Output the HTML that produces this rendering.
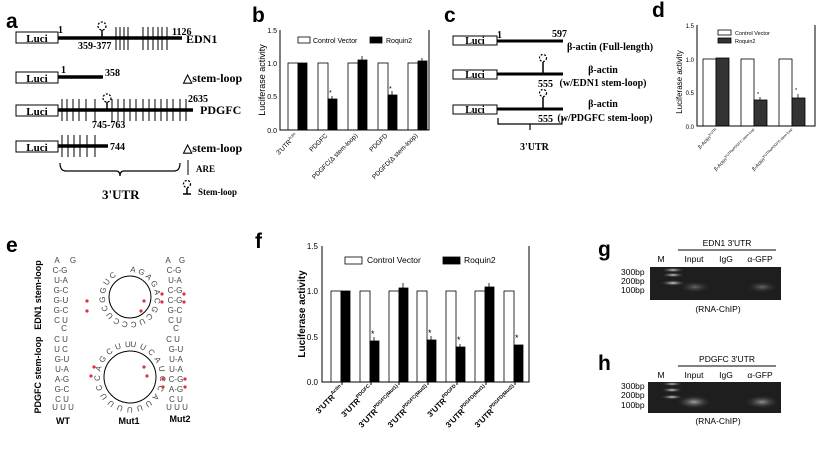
<!DOCTYPE html>
<html><head><meta charset="utf-8"><style>
html,body{margin:0;padding:0;background:#fff;width:817px;height:450px;overflow:hidden}
svg{display:block}
.sf{font-family:"Liberation Serif",serif;font-weight:bold}
.ss{font-family:"Liberation Sans",sans-serif}
.pl{font-family:"Liberation Sans",sans-serif;font-weight:bold;font-size:21px}
</style></head><body>
<svg width="817" height="450" viewBox="0 0 817 450" xmlns="http://www.w3.org/2000/svg">
<defs>
<radialGradient id="gl"><stop offset="0" stop-color="#666"/><stop offset="1" stop-color="#222" stop-opacity="0"/></radialGradient>
<radialGradient id="gb"><stop offset="0" stop-color="#ddd"/><stop offset="1" stop-color="#222" stop-opacity="0"/></radialGradient>
<path id="c1" d="M130,272 A25,25 0 1,1 129.9,272"/>
<path id="c2" d="M130,347 A30,30 0 1,1 129.9,347"/>
</defs>
<!-- Panel a -->
<text x="6" y="28" class="pl">a</text>
<g stroke="#000" fill="#fff" stroke-width="1">
<rect x="16" y="32" width="42" height="11"/>
<rect x="16" y="72" width="42" height="11"/>
<rect x="16" y="105" width="42" height="11"/>
<rect x="16" y="141" width="42" height="11"/>
</g>
<g class="sf" font-size="11" text-anchor="middle"><text x="37" y="42">Luci</text><text x="37" y="82">Luci</text><text x="37" y="115">Luci</text><text x="37" y="151">Luci</text></g>
<g stroke="#000" stroke-width="3.5"><line x1="58" y1="38" x2="182" y2="38"/><line x1="58" y1="77" x2="103" y2="77"/><line x1="58" y1="110" x2="193" y2="110"/><line x1="58" y1="146" x2="108" y2="146"/></g>
<g stroke="#000" stroke-width="1">
<line x1="116" y1="27" x2="116" y2="50"/><line x1="120" y1="27" x2="120" y2="50"/><line x1="124" y1="27" x2="124" y2="50"/><line x1="128" y1="27" x2="128" y2="50"/>
<line x1="143" y1="27" x2="143" y2="50"/><line x1="148" y1="27" x2="148" y2="50"/><line x1="153" y1="27" x2="153" y2="50"/><line x1="158" y1="27" x2="158" y2="50"/><line x1="162" y1="27" x2="162" y2="50"/><line x1="167" y1="27" x2="167" y2="50"/>
<line x1="62" y1="99" x2="62" y2="121"/><line x1="67" y1="99" x2="67" y2="121"/><line x1="73" y1="99" x2="73" y2="121"/><line x1="79" y1="99" x2="79" y2="121"/><line x1="86" y1="99" x2="86" y2="121"/><line x1="95" y1="99" x2="95" y2="121"/>
<line x1="112" y1="99" x2="112" y2="121"/><line x1="118" y1="99" x2="118" y2="121"/><line x1="124" y1="99" x2="124" y2="121"/><line x1="130" y1="99" x2="130" y2="121"/><line x1="136" y1="99" x2="136" y2="121"/><line x1="143" y1="99" x2="143" y2="121"/><line x1="149" y1="99" x2="149" y2="121"/><line x1="155" y1="99" x2="155" y2="121"/><line x1="161" y1="99" x2="161" y2="121"/><line x1="167" y1="99" x2="167" y2="121"/><line x1="173" y1="99" x2="173" y2="121"/><line x1="180" y1="99" x2="180" y2="121"/><line x1="186" y1="99" x2="186" y2="121"/>
<line x1="62" y1="135" x2="62" y2="157"/><line x1="68" y1="135" x2="68" y2="157"/><line x1="74" y1="135" x2="74" y2="157"/><line x1="80" y1="135" x2="80" y2="157"/><line x1="87" y1="135" x2="87" y2="157"/><line x1="95" y1="135" x2="95" y2="157"/>
<line x1="188" y1="160" x2="188" y2="175"/>
</g>
<g fill="none" stroke="#000" stroke-width="1.3" stroke-dasharray="2,1.5"><circle cx="102" cy="26" r="4"/><circle cx="107" cy="98" r="4"/><circle cx="187" cy="184" r="3.5"/></g>
<g stroke="#000" stroke-width="1.5"><line x1="102" y1="30" x2="102" y2="37"/><line x1="107" y1="102" x2="107" y2="110"/><line x1="187" y1="188" x2="187" y2="194"/><line x1="183" y1="194" x2="191" y2="194"/></g>
<path d="M60,163 Q60,171 66,171 L116,171 Q120,171 120,176 Q120,171 124,171 L174,171 Q180,171 180,163" fill="none" stroke="#000" stroke-width="1.2"/>
<g class="sf" font-size="10"><text x="58" y="33">1</text><text x="172" y="35">1126</text><text x="78" y="49">359-377</text><text x="61" y="73">1</text><text x="105" y="76">358</text><text x="188" y="102">2635</text><text x="92" y="128">745-763</text><text x="110" y="150">744</text></g>
<g class="sf" font-size="12"><text x="186" y="43">EDN1</text><text x="183" y="82">△stem-loop</text><text x="200" y="114">PDGFC</text><text x="183" y="152">△stem-loop</text><text x="102" y="199" font-size="13">3'UTR</text></g>
<g class="sf" font-size="9"><text x="196" y="172">ARE</text><text x="198" y="195">Stem-loop</text></g>

<!-- Panel b -->
<text x="252" y="22" class="pl">b</text>
<g class="ss" font-size="7" text-anchor="end"><text x="277" y="33">1.5</text><text x="277" y="66">1.0</text><text x="277" y="99">0.5</text><text x="277" y="133">0.0</text></g>
<text transform="translate(265,80) rotate(-90)" class="ss" font-size="9" text-anchor="middle">Luciferase activity</text>
<g stroke="#000" stroke-width="0.8">
<rect x="288" y="63" width="10" height="67" fill="#fff"/><rect x="298" y="63" width="9" height="67" fill="#000"/>
<rect x="318" y="63" width="10" height="67" fill="#fff"/><rect x="328" y="99" width="9" height="31" fill="#000"/>
<rect x="348" y="63" width="10" height="67" fill="#fff"/><rect x="358" y="60" width="9" height="70" fill="#000"/>
<rect x="378" y="63" width="10" height="67" fill="#fff"/><rect x="388" y="95" width="9" height="35" fill="#000"/>
<rect x="408" y="63" width="10" height="67" fill="#fff"/><rect x="418" y="61" width="9" height="69" fill="#000"/>
<line x1="332" y1="96" x2="332" y2="99"/><line x1="362" y1="56" x2="362" y2="60"/><line x1="392" y1="91" x2="392" y2="95"/><line x1="422" y1="58" x2="422" y2="61"/>
<path d="M280,30 L280,130 L429,130 L429,30" fill="none" stroke-width="1"/>
<rect x="298" y="37" width="12" height="6" fill="#fff"/><rect x="370" y="37" width="12" height="6" fill="#000"/>
</g>
<g class="ss" font-size="7"><text x="313" y="43">Control Vector</text><text x="386" y="43">Roquin2</text><text x="329" y="95">*</text><text x="389" y="91">*</text></g>
<g class="ss" font-size="6.5" text-anchor="end">
<text transform="translate(298,136) rotate(-45)">3'UTR<tspan font-size="4" dy="-3">Actin</tspan></text>
<text transform="translate(328,136) rotate(-45)">PDGFC</text>
<text transform="translate(358,136) rotate(-45)">PDGFC(Δ stem-loop)</text>
<text transform="translate(388,136) rotate(-45)">PDGFD</text>
<text transform="translate(418,136) rotate(-45)">PDGFD(Δ stem-loop)</text>
</g>

<!-- Panel c -->
<text x="444" y="22" class="pl">c</text>
<g stroke="#000" fill="#fff"><rect x="453" y="36" width="44" height="9"/><rect x="453" y="70" width="44" height="9"/><rect x="453" y="105" width="44" height="9"/></g>
<g class="sf" font-size="10" text-anchor="middle"><text x="475" y="44">Luci</text><text x="475" y="78">Luci</text><text x="475" y="113">Luci</text></g>
<g stroke="#000" stroke-width="3"><line x1="497" y1="41" x2="563" y2="41"/><line x1="497" y1="74" x2="563" y2="74"/><line x1="497" y1="109" x2="563" y2="109"/></g>
<g fill="none" stroke="#000" stroke-width="1.2" stroke-dasharray="2,1.5"><circle cx="543" cy="58" r="3.5"/><circle cx="543" cy="93" r="3.5"/></g>
<g stroke="#000" stroke-width="1.5"><line x1="543" y1="62" x2="543" y2="73"/><line x1="543" y1="97" x2="543" y2="108"/></g>
<path d="M498,118 L498,124 L530,124 L530,130 M530,124 L562,124 L562,118" fill="none" stroke="#000" stroke-width="1.2"/>
<g class="sf" font-size="10"><text x="497" y="38">1</text><text x="552" y="37">597</text><text x="538" y="87">555</text><text x="538" y="122">555</text><text x="520" y="150" font-size="10">3'UTR</text></g>
<g class="sf" font-size="10"><text x="567" y="50">β-actin (Full-length)</text><text x="603" y="73" text-anchor="middle">β-actin</text><text x="603" y="86" text-anchor="middle">(w/EDN1 stem-loop)</text><text x="603" y="107" text-anchor="middle">β-actin</text><text x="605" y="121" text-anchor="middle">(w/PDGFC stem-loop)</text></g>

<!-- Panel d -->
<text x="652" y="17" class="pl">d</text>
<g class="ss" font-size="6" text-anchor="end"><text x="694" y="28">1.5</text><text x="694" y="62">1.0</text><text x="694" y="95">0.5</text><text x="694" y="129">0.0</text></g>
<text transform="translate(682,82) rotate(-90)" class="ss" font-size="8" text-anchor="middle">Luciferase activity</text>
<g stroke="#000" stroke-width="0.8">
<rect x="703" y="59" width="13" height="67" fill="#fff"/><rect x="716" y="58" width="13" height="68" fill="#333"/>
<rect x="741" y="59" width="13" height="67" fill="#fff"/><rect x="754" y="100" width="13" height="26" fill="#333"/>
<rect x="779" y="59" width="13" height="67" fill="#fff"/><rect x="792" y="98" width="13" height="28" fill="#333"/>
<line x1="760" y1="97" x2="760" y2="100"/><line x1="798" y1="94" x2="798" y2="98"/>
<path d="M697,25 L697,126 L815,126 L815,25" fill="none" stroke-width="1"/>
<rect x="718" y="30" width="13" height="5" fill="#fff"/><rect x="718" y="38" width="13" height="5" fill="#333"/>
</g>
<g class="ss" font-size="5.5"><text x="735" y="35">Control Vector</text><text x="735" y="43">Roquin2</text><text x="757" y="96">*</text><text x="795" y="92">*</text></g>
<g class="ss" font-size="5" text-anchor="end">
<text transform="translate(718,131) rotate(-45)">β-Actin<tspan font-size="3.5" dy="-2">3'UTR</tspan></text>
<text transform="translate(756,131) rotate(-45)">β-Actin<tspan font-size="3.5" dy="-2">3'UTRwPDGFC stem-loop</tspan></text>
<text transform="translate(794,131) rotate(-45)">β-Actin<tspan font-size="3.5" dy="-2">3'UTRwPDGFD stem-loop</tspan></text>
</g>

<!-- Panel e -->
<text x="6" y="252" class="pl">e</text>
<g class="ss" font-size="9" font-weight="bold" text-anchor="middle">
<text transform="translate(41,295) rotate(-90)">EDN1 stem-loop</text>
<text transform="translate(41,375) rotate(-90)">PDGFC stem-loop</text>
<text x="63" y="424">WT</text><text x="129" y="424">Mut1</text><text x="180" y="422">Mut2</text>
</g>
<g class="ss" font-size="8" fill="#444" text-anchor="middle">
<text x="57" y="263">A</text><text x="73" y="263">G</text>
<text x="60" y="273">C-G</text><text x="61" y="283">U-A</text><text x="61" y="293">G-C</text><text x="61" y="303">G-U</text><text x="61" y="313">G-C</text><text x="61" y="323">C   U</text><text x="64" y="331">C</text>
<text x="61" y="342">C   U</text><text x="61" y="352">U   C</text><text x="62" y="362">G-U</text><text x="62" y="372">U-A</text><text x="62" y="382">A-G</text><text x="62" y="392">G-C</text><text x="62" y="402">C     U</text><text x="63" y="410">U U U</text>
<text x="168" y="263">A</text><text x="182" y="263">G</text><text x="174" y="273">C-G</text><text x="175" y="283">U-A</text><text x="175" y="293">C-G</text><text x="175" y="303">C-G</text><text x="175" y="313">G-C</text><text x="175" y="323">C   U</text><text x="176" y="331">C</text>
<text x="173" y="342">C   U</text><text x="176" y="352">G-U</text><text x="176" y="362">U-A</text><text x="176" y="372">U-A</text><text x="176" y="382">C-G</text><text x="176" y="392">A-G</text><text x="176" y="402">C     U</text><text x="177" y="410">U U U</text>
</g>
<g fill="none" stroke="#000" stroke-width="1"><circle cx="130" cy="297" r="21"/><circle cx="130" cy="377" r="26"/></g>
<g class="ss" font-size="8" fill="#444"><text letter-spacing="2.2"><textPath href="#c1">AGAGACGCUCCCUCGGUC</textPath></text><text letter-spacing="3.4"><textPath href="#c2">UUCAUCCAUUUUUUCCAGCUU</textPath></text></g>
<g fill="#e03040"><circle cx="87" cy="301" r="1.6"/><circle cx="87" cy="311" r="1.6"/><circle cx="144" cy="301" r="1.6"/><circle cx="141" cy="311" r="1.6"/><circle cx="94" cy="367" r="1.6"/><circle cx="91" cy="376" r="1.6"/><circle cx="144" cy="367" r="1.6"/><circle cx="147" cy="376" r="1.6"/><circle cx="162" cy="294" r="1.6"/><circle cx="162" cy="302" r="1.6"/><circle cx="184" cy="294" r="1.6"/><circle cx="184" cy="302" r="1.6"/><circle cx="163" cy="379" r="1.6"/><circle cx="163" cy="387" r="1.6"/><circle cx="185" cy="379" r="1.6"/><circle cx="185" cy="387" r="1.6"/></g>

<!-- Panel f -->
<text x="255" y="248" class="pl">f</text>
<g class="ss" font-size="8" text-anchor="end"><text x="318" y="249">1.5</text><text x="318" y="294">1.0</text><text x="318" y="340">0.5</text><text x="318" y="385">0.0</text></g>
<text transform="translate(305,314) rotate(-90)" class="ss" font-size="10" font-weight="bold" text-anchor="middle">Luciferase activity</text>
<g stroke="#000" stroke-width="0.8">
<rect x="331" y="291" width="10" height="91" fill="#fff"/><rect x="341" y="291" width="9" height="91" fill="#000"/>
<rect x="360" y="291" width="10" height="91" fill="#fff"/><rect x="370" y="341" width="9" height="41" fill="#000"/>
<rect x="389" y="291" width="10" height="91" fill="#fff"/><rect x="399" y="288" width="9" height="94" fill="#000"/>
<rect x="417" y="291" width="10" height="91" fill="#fff"/><rect x="427" y="340" width="9" height="42" fill="#000"/>
<rect x="446" y="291" width="10" height="91" fill="#fff"/><rect x="456" y="347" width="9" height="35" fill="#000"/>
<rect x="475" y="291" width="10" height="91" fill="#fff"/><rect x="485" y="287" width="9" height="95" fill="#000"/>
<rect x="504" y="291" width="10" height="91" fill="#fff"/><rect x="514" y="345" width="9" height="37" fill="#000"/>
<line x1="374" y1="337" x2="374" y2="341"/><line x1="403" y1="283" x2="403" y2="288"/><line x1="431" y1="336" x2="431" y2="340"/><line x1="460" y1="344" x2="460" y2="347"/><line x1="489" y1="283" x2="489" y2="287"/>
<path d="M322,246 L322,382 L529,382 L529,246" fill="none" stroke-width="1"/>
<g stroke-width="1"><line x1="342" y1="382" x2="342" y2="385"/><line x1="371" y1="382" x2="371" y2="385"/><line x1="399" y1="382" x2="399" y2="385"/><line x1="428" y1="382" x2="428" y2="385"/><line x1="457" y1="382" x2="457" y2="385"/><line x1="486" y1="382" x2="486" y2="385"/><line x1="515" y1="382" x2="515" y2="385"/></g>
<rect x="345" y="257" width="17" height="7" fill="#fff"/><rect x="443" y="257" width="17" height="7" fill="#000"/>
</g>
<g class="ss" font-size="8.5"><text x="367" y="263">Control Vector</text><text x="464" y="263">Roquin2</text></g>
<g class="ss" font-size="9"><text x="371" y="337">*</text><text x="428" y="336">*</text><text x="457" y="343">*</text><text x="515" y="341">*</text></g>
<g class="ss" font-size="8" font-weight="bold" text-anchor="end">
<text transform="translate(344,389) rotate(-45)">3'UTR<tspan font-size="5" dy="-4">Actin</tspan></text>
<text transform="translate(373,389) rotate(-45)">3'UTR<tspan font-size="5" dy="-4">PDGFC</tspan></text>
<text transform="translate(401,389) rotate(-45)">3'UTR<tspan font-size="5" dy="-4">PDGFC(Mut1)</tspan></text>
<text transform="translate(430,389) rotate(-45)">3'UTR<tspan font-size="5" dy="-4">PDGFC(Mut2)</tspan></text>
<text transform="translate(459,389) rotate(-45)">3'UTR<tspan font-size="5" dy="-4">PDGFD</tspan></text>
<text transform="translate(488,389) rotate(-45)">3'UTR<tspan font-size="5" dy="-4">PDGFD(Mut1)</tspan></text>
<text transform="translate(517,389) rotate(-45)">3'UTR<tspan font-size="5" dy="-4">PDGFD(Mut2)</tspan></text>
</g>

<!-- Panel g -->
<text x="598" y="256" class="pl">g</text>
<line x1="678" y1="250" x2="776" y2="250" stroke="#000"/>
<g class="ss" font-size="8.5" text-anchor="middle"><text x="727" y="246">EDN1 3'UTR</text><text x="661" y="262">M</text><text x="694" y="262">Input</text><text x="726" y="262">IgG</text><text x="760" y="262">α-GFP</text><text x="718" y="312">(RNA-ChIP)</text></g>
<rect x="650" y="267" width="131" height="33" fill="#1e1e1e"/>
<ellipse cx="673" cy="270" rx="12" ry="2.5" fill="url(#gb)"/><ellipse cx="673" cy="275" rx="12" ry="2.5" fill="url(#gb)"/><ellipse cx="673" cy="283" rx="13" ry="3" fill="url(#gb)"/>
<ellipse cx="695" cy="287" rx="16" ry="6" fill="url(#gl)"/><ellipse cx="762" cy="287" rx="16" ry="6" fill="url(#gl)"/>
<g class="ss" font-size="8.5"><text x="621" y="275">300bp</text><text x="621" y="284">200bp</text><text x="621" y="293">100bp</text></g>

<!-- Panel h -->
<text x="598" y="370" class="pl">h</text>
<line x1="678" y1="366" x2="776" y2="366" stroke="#000"/>
<g class="ss" font-size="8.5" text-anchor="middle"><text x="727" y="362">PDGFC 3'UTR</text><text x="661" y="378">M</text><text x="694" y="378">Input</text><text x="726" y="378">IgG</text><text x="760" y="378">α-GFP</text><text x="718" y="424">(RNA-ChIP)</text></g>
<rect x="648" y="382" width="133" height="31" fill="#1e1e1e"/>
<ellipse cx="672" cy="384" rx="11" ry="2" fill="url(#gb)"/><ellipse cx="672" cy="390" rx="11" ry="2.5" fill="url(#gb)"/><ellipse cx="672" cy="397" rx="12" ry="2.5" fill="url(#gb)"/>
<ellipse cx="694" cy="402" rx="18" ry="7" fill="url(#gb)" opacity="0.7"/><ellipse cx="762" cy="402" rx="18" ry="7" fill="url(#gb)" opacity="0.6"/>
<g class="ss" font-size="8.5"><text x="621" y="389">300bp</text><text x="621" y="398">200bp</text><text x="621" y="408">100bp</text></g>
</svg>
</body></html>
